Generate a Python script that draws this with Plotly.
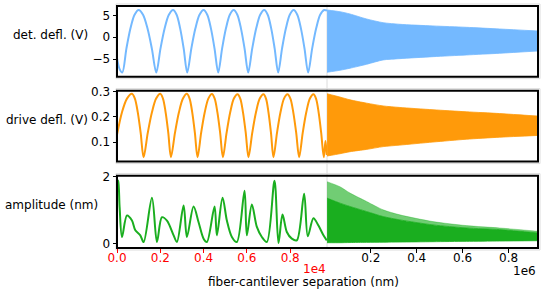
import plotly.graph_objects as go

# ---------------- data ----------------
# Row 1: detector deflection (V), near range 0..1e4 nm
det_x = [0, 120, 245, 434, 622, 811, 1000, 1203, 1407, 1610, 1814, 2008, 2202, 2396, 2590,
         2754, 2917, 3081, 3244, 3433, 3622, 3811, 4000, 4169, 4338, 4506, 4675, 4854, 5033,
         5211, 5390, 5558, 5725, 5893, 6060, 6245, 6430, 6615, 6800, 6961, 7122, 7283, 7444,
         7623, 7802, 7981, 8160, 8327, 8495, 8662, 8829, 9014, 9200, 9385, 9570, 9700]
det_y = [-4.8, -7.3, -8.1, -2.6, 2.05, 5.17, 6.26, 5.17, 2.05, -2.6, -8.1, -2.6, 2.05, 5.17, 6.26,
         5.17, 2.05, -2.6, -8.1, -2.6, 2.05, 5.17, 6.26, 5.17, 2.05, -2.6, -8.1, -2.6, 2.05,
         5.17, 6.26, 5.17, 2.05, -2.6, -8.1, -2.6, 2.05, 5.17, 6.26, 5.17, 2.05, -2.6, -8.1,
         -2.6, 2.05, 5.17, 6.26, 5.17, 2.05, -2.6, -8.1, -2.6, 2.05, 5.17, 6.26, 6.1]
# Far range: envelopes of the dense oscillations
far_x = [10000, 66000, 110000, 182000, 254000, 327000, 471000, 616000, 761000, 928000]
det_hi = [6.26, 5.87, 5.34, 4.2, 3.35, 2.98, 2.6, 2.29, 1.9, 1.44]
det_lo = [-8.03, -7.57, -7.1, -6.2, -5.2, -4.9, -4.45, -4.06, -3.67, -3.14]

# Row 2: drive deflection (V)
drv_x = [0, 230, 460, 692, 826, 960, 1094, 1228, 1421, 1614, 1807, 2000, 2123, 2246, 2369, 2492,
         2677, 2861, 3046, 3230, 3353, 3475, 3598, 3720, 3886, 4053, 4219, 4385, 4512, 4638,
         4765, 4892, 5061, 5229, 5398, 5566, 5693, 5820, 5947, 6074, 6247, 6420, 6593, 6766,
         6882, 6997, 7113, 7228, 7390, 7551, 7713, 7874, 8009, 8143, 8278, 8412, 8578, 8743,
         8909, 9074, 9193, 9313, 9432, 9551, 9630, 9690]
drv_y = [0.129, 0.218, 0.272, 0.291, 0.272, 0.218, 0.137, 0.041, 0.137, 0.218, 0.272, 0.291,
         0.272, 0.218, 0.137, 0.041, 0.137, 0.218, 0.272, 0.291, 0.272, 0.218, 0.137, 0.041,
         0.137, 0.218, 0.272, 0.290, 0.272, 0.218, 0.137, 0.041, 0.137, 0.218, 0.272, 0.289,
         0.272, 0.218, 0.137, 0.041, 0.137, 0.218, 0.272, 0.289, 0.272, 0.218, 0.137, 0.041,
         0.137, 0.218, 0.272, 0.289, 0.272, 0.218, 0.137, 0.041, 0.137, 0.218, 0.272, 0.289,
         0.272, 0.218, 0.137, 0.041, 0.105, 0.05]
drv_hi = [0.291, 0.278, 0.267, 0.254, 0.243, 0.237, 0.228, 0.220, 0.213, 0.203]
drv_lo = [0.046, 0.055, 0.063, 0.072, 0.083, 0.089, 0.101, 0.112, 0.120, 0.127]

# Row 3: amplitude (nm)
amp_x = [0, 46, 120, 231, 461, 692, 846, 1077, 1230, 1615, 1846, 2076, 2307, 2615, 2768, 3076,
         3230, 3537, 3768, 3999, 4153, 4506, 4614, 4875, 5075, 5306, 5537, 5891, 5998, 6229,
         6460, 6690, 6921, 7275, 7459, 7644, 7844, 8075, 8305, 8644, 8813, 9074, 9305, 9536, 9690]
amp_y = [1.9, 1.88, 1.1, 0.2, 0.84, 0.69, 0.40, 0.25, 0.05, 1.37, 0.05, 0.79, 0.69, 0.25, 0.05,
         1.14, 0.20, 1.11, 0.64, 0.15, 0.05, 1.11, 0.25, 1.37, 0.69, 0.20, 0.05, 1.58, 0.25, 1.17,
         0.50, 0.20, 0.05, 1.88, 0.02, 0.87, 0.35, 0.15, 0.10, 1.49, 0.22, 0.76, 0.54, 0.25, 0.10]
amp_peak = [1.85, 1.70, 1.51, 1.26, 1.01, 0.86, 0.66, 0.54, 0.47, 0.37]
amp_hi = [1.36, 1.21, 1.11, 0.96, 0.81, 0.71, 0.56, 0.47, 0.42, 0.32]
amp_lo = [0.03, 0.03, 0.035, 0.04, 0.045, 0.05, 0.06, 0.07, 0.08, 0.09]

row_labels = ["det. defl. (V)", "drive defl. (V)", "amplitude (nm)"]
x_title = "fiber-cantilever separation (nm)"
near_ticks = [0, 2000, 4000, 6000, 8000]
near_ticktext = ["0.0", "0.2", "0.4", "0.6", "0.8"]
far_ticks = [200000, 400000, 600000, 800000]
far_ticktext = ["0.2", "0.4", "0.6", "0.8"]
y_ticks = [[-5, 0, 5], [0.1, 0.2, 0.3], [0, 2]]
y_ticktext = [["\u22125", "0", "5"], ["0.1", "0.2", "0.3"], ["0", "2"]]
y_ranges = [[-9.04, 7.18], [0.024, 0.303], [-0.128, 2.03]]

# ---------------- styling ----------------
BLUE = "#74b9ff"
ORANGE = "#ff9a0a"
GREEN = "#1aae1f"
FONT = "DejaVu Sans"
W, H = 545, 291
ML, MR, MT, MB = 117, 7, 6, 43
split = (327 - ML) / (W - ML - MR)
row_domains = [[0.708, 1.0], [0.357, 0.650], [0.0, 0.299]]
near_range = [0, 9700]
far_range = [9700, 928000]

fig = go.Figure()
colors = [BLUE, ORANGE, GREEN]
near_data = [(det_x, det_y), (drv_x, drv_y), (amp_x, amp_y)]
far_data = [(det_lo, det_hi), (drv_lo, drv_hi), (amp_lo, amp_hi)]

layout = dict(
    width=W, height=H,
    margin=dict(l=ML, r=MR, t=MT, b=MB, autoexpand=False),
    paper_bgcolor="white", plot_bgcolor="rgba(0,0,0,0)",
    showlegend=False,
    font=dict(family=FONT, size=12, color="black"),
)

shapes = []
annotations = []
ph = H - MT - MB
pw = W - ML - MR
for r in range(3):
    i_near = 2 * r + 1
    i_far = 2 * r + 2
    xn, yn = f"x{i_near}", f"y{i_near}"
    xf, yf = f"x{i_far}", f"y{i_far}"
    col = colors[r]
    bottom = (r == 2)

    fig.add_trace(go.Scatter(x=near_data[r][0], y=near_data[r][1], mode="lines",
                             line=dict(color=col, width=2, shape="spline", smoothing=0.9),
                             xaxis=xn, yaxis=yn, hoverinfo="skip"))
    lo, hi = far_data[r]
    fig.add_trace(go.Scatter(x=far_x, y=lo, mode="lines",
                             line=dict(color=col, width=0.8, shape="spline", smoothing=0.7),
                             xaxis=xf, yaxis=yf, hoverinfo="skip"))
    fig.add_trace(go.Scatter(x=far_x, y=hi, mode="lines", fill="tonexty", fillcolor=col,
                             line=dict(color=col, width=0.8, shape="spline", smoothing=0.7),
                             xaxis=xf, yaxis=yf, hoverinfo="skip"))
    if r == 2:
        fig.add_trace(go.Scatter(x=far_x, y=amp_peak, mode="lines", fill="tonexty",
                                 fillcolor="rgba(26,174,31,0.62)",
                                 line=dict(color="rgba(26,174,31,0.55)", width=0.6,
                                           shape="spline", smoothing=0.7),
                                 xaxis=xf, yaxis=yf, hoverinfo="skip"))

    key_n = "xaxis" if i_near == 1 else f"xaxis{i_near}"
    key_f = f"xaxis{i_far}"
    key_yn = "yaxis" if i_near == 1 else f"yaxis{i_near}"
    key_yf = f"yaxis{i_far}"

    layout[key_n] = dict(domain=[0, split], range=near_range, anchor=yn,
                         showgrid=False, zeroline=False, showline=False,
                         tickmode="array", tickvals=near_ticks if bottom else [],
                         ticktext=near_ticktext if bottom else [],
                         ticks="outside" if bottom else "", ticklen=3.5, tickwidth=1,
                         tickcolor="red", tickfont=dict(family=FONT, size=12, color="red"),
                         showticklabels=bottom, automargin=False, ticklabelstandoff=-5)
    layout[key_f] = dict(domain=[split, 1], range=far_range, anchor=yf,
                         showgrid=False, zeroline=False, showline=False,
                         tickmode="array", tickvals=far_ticks if bottom else [],
                         ticktext=far_ticktext if bottom else [],
                         ticks="outside" if bottom else "", ticklen=3.5, tickwidth=1,
                         tickcolor="black", tickfont=dict(family=FONT, size=12, color="black"),
                         showticklabels=bottom, automargin=False, ticklabelstandoff=-5)
    layout[key_yn] = dict(domain=row_domains[r], range=y_ranges[r], anchor=xn,
                          showgrid=False, zeroline=False, showline=False,
                          tickmode="array", tickvals=y_ticks[r], ticktext=y_ticktext[r],
                          ticks="outside", ticklen=3.5, tickwidth=1, tickcolor="black",
                          tickfont=dict(family=FONT, size=12, color="black"), automargin=False)
    layout[key_yf] = dict(domain=row_domains[r], range=y_ranges[r], anchor=xf,
                          visible=False)

    d0, d1 = row_domains[r]
    g = 2.0
    shapes.append(dict(type="rect", xref="paper", yref="paper",
                       x0=-1.0 / pw, x1=1 + 2.0 / pw, y0=d0 - g / ph, y1=d1 + g / ph,
                       line=dict(color="#dcdcdc", width=1), layer="below"))
    shapes.append(dict(type="rect", xref="paper", yref="paper",
                       x0=0, x1=1, y0=d0, y1=d1,
                       line=dict(color="black", width=2), layer="above"))

shapes.append(dict(type="line", xref="paper", yref="paper", x0=split, x1=split,
                   y0=row_domains[2][0], y1=row_domains[0][1] + 2.0 / ph,
                   line=dict(color="#dcdcdc", width=1), layer="below"))

ylab_pos = [(-0.0641, 0.880), (-0.0641, 0.529), (-0.0403, 0.178)]
for r in range(3):
    annotations.append(dict(text=row_labels[r], xref="paper", yref="paper",
                            x=ylab_pos[r][0], y=ylab_pos[r][1], xanchor="right",
                            yanchor="middle", showarrow=False,
                            font=dict(family=FONT, size=12, color="black")))
annotations.append(dict(text="1e4", xref="paper", yref="paper", x=split + 0.003, y=-0.088,
                        xanchor="right", yanchor="middle", showarrow=False,
                        font=dict(family=FONT, size=12, color="red")))
annotations.append(dict(text="1e6", xref="paper", yref="paper", x=1.0, y=-0.093,
                        xanchor="right", yanchor="middle", showarrow=False,
                        font=dict(family=FONT, size=12, color="black")))
annotations.append(dict(text=x_title, xref="paper", yref="paper", x=0.4425, y=-0.139,
                        xanchor="center", yanchor="middle", showarrow=False,
                        font=dict(family=FONT, size=12, color="black")))

layout["shapes"] = shapes
layout["annotations"] = annotations
fig.update_layout(**layout)
fig.write_html("out.html", config={"displayModeBar": False},
               post_script="document.body.style.margin='0px';document.body.style.padding='0px';")
